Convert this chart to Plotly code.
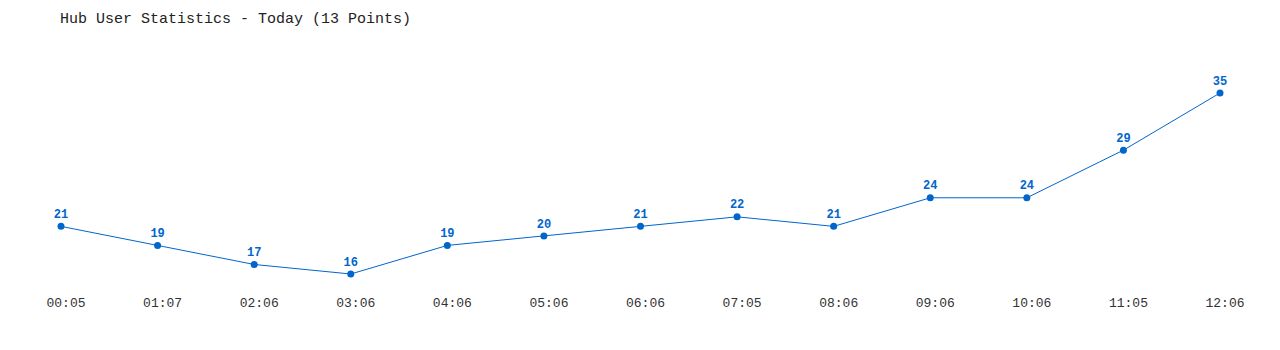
import plotly.graph_objects as go

times = ["00:05", "01:07", "02:06", "03:06", "04:06", "05:06", "06:06",
         "07:05", "08:06", "09:06", "10:06", "11:05", "12:06"]
users = [21, 19, 17, 16, 19, 20, 21, 22, 21, 24, 24, 29, 35]

blue = "#0066cc"
font = "Liberation Mono, DejaVu Sans Mono, monospace"

fig = go.Figure(go.Scatter(
    x=list(range(len(times))), y=users,
    mode="lines+markers+text",
    line=dict(color=blue, width=1),
    marker=dict(color=blue, size=7),
    text=[f"<b>{v}</b>" for v in users],
    textposition="top center",
    textfont=dict(color=blue, size=12, family=font),
    cliponaxis=False,
    hoverinfo="skip",
))

fig.update_layout(
    width=1280, height=350,
    margin=dict(l=40, r=40, t=80, b=60),
    paper_bgcolor="white", plot_bgcolor="white",
    showlegend=False,
    title=dict(text="Hub User Statistics - Today (13 Points)",
               x=60/1280, xanchor="left", y=1-18/350, yanchor="middle",
               font=dict(family=font, size=15, color="#222")),
    xaxis=dict(range=[-0.2174, 12.207], tickmode="array",
               tickvals=list(range(len(times))), ticktext=times,
               showgrid=False, zeroline=False, showline=False,
               ticks="", ticklabelstandoff=3, ticklabelshift=5,
               tickfont=dict(family=font, size=13, color="#333")),
    yaxis=dict(range=[14.32, 36.365], visible=False),
)

fig.write_html("out.html")
